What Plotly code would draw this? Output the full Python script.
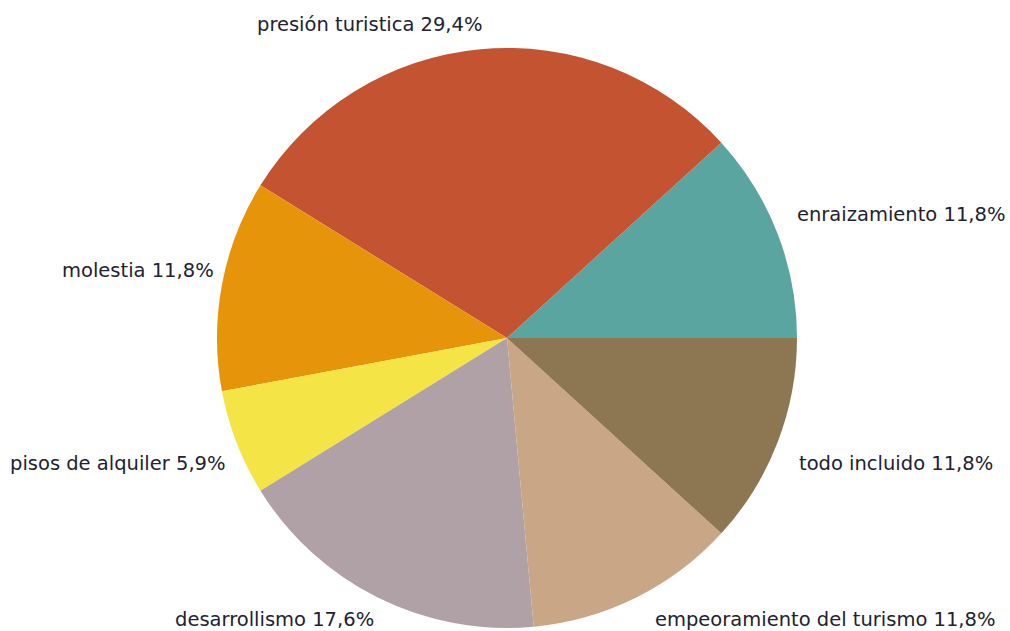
import plotly.graph_objects as go

categories = ["enraizamiento", "presión turistica", "molestia", "pisos de alquiler",
              "desarrollismo", "empeoramiento del turismo", "todo incluido"]
counts = [2, 5, 2, 1, 3, 2, 2]
colors = ["#5BA5A1", "#C45331", "#E6950B", "#F4E446", "#B0A1A6", "#C9A685", "#8C7752"]

# label anchor positions (pixels in 1010x631 canvas) and alignment
label_px = [(795, 215), (370, 25), (216, 270), (228, 463), (274, 619), (653, 619), (797, 463)]
label_anchor = ["left", "center", "right", "right", "center", "left", "left"]

W, H = 1010, 631
total = sum(counts)
pcts = [f"{v / total * 100:.1f}".replace(".", ",") + "%" for v in counts]

cx, cy, r = 507, 338, 290
fig = go.Figure(go.Pie(
    labels=categories, values=counts, sort=False, direction="counterclockwise",
    rotation=90 - 360 * counts[0] / total, marker=dict(colors=colors, line=dict(width=0)),
    textinfo="none", hoverinfo="label+percent", showlegend=False,
    domain=dict(x=[(cx - r) / W, (cx + r) / W], y=[1 - (cy + r) / H, 1 - (cy - r) / H]),
))

for cat, p, (px, py), anc in zip(categories, pcts, label_px, label_anchor):
    fig.add_annotation(x=px / W, y=1 - py / H, xref="paper", yref="paper",
                       text=f"{cat} {p}", showarrow=False, xanchor=anc, yanchor="middle",
                       font=dict(family="DejaVu Sans", size=19.5, color="#222233"))

fig.update_layout(width=W, height=H, margin=dict(l=0, r=0, t=0, b=0),
                  paper_bgcolor="white", plot_bgcolor="white")
fig.write_html("out.html", config={"displayModeBar": False},
               post_script="document.body.style.margin='0';")
